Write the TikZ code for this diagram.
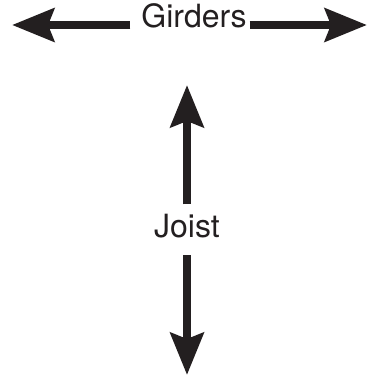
\documentclass[tikz,border=0pt]{standalone}
\usepackage{fontspec}
\setmainfont{TeX Gyre Heros}
\usetikzlibrary{arrows.meta,positioning}
\definecolor{ink}{HTML}{231F20}
\begin{document}
\begin{tikzpicture}[x=1pt,y=-1pt,lbl/.style={inner xsep=3pt,inner ysep=9pt,text depth=9pt,anchor=base,text=ink,font=\fontsize{32}{32}\selectfont},arr/.style={draw=ink,line width=8.5pt,-{Stealth[length=42pt,width=33pt,inset=6pt]}}]
\useasboundingbox (0,0) rectangle (371,382);
\node[lbl] (g) at (194,28) {Girders};
\node[lbl] (j) at (187,237) {Joist};
\coordinate (gl) at (12,25);\coordinate (gr) at (367,25);
\coordinate (jt) at (187,85);\coordinate (jb) at (187,375);
\draw[arr]([xshift=-8pt]g.west|-gl)--(gl);\draw[arr](g.east|-gr)--(gr);
\draw[arr](j.north)--(jt);\draw[arr](j.south)--(jb);
\end{tikzpicture}
\end{document}
